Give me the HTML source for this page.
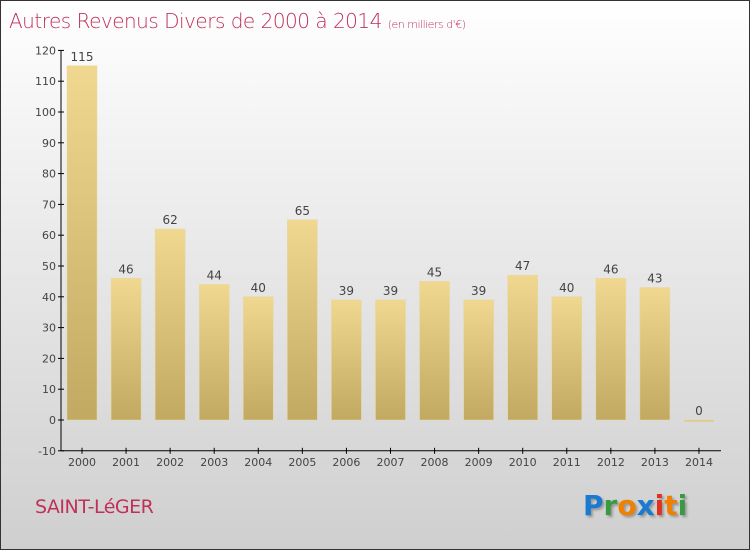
<!DOCTYPE html>
<html><head><meta charset="utf-8"><style>
body{margin:0;width:750px;height:550px;overflow:hidden}
#c{position:relative;width:748px;height:548px;border:1px solid #333;background:linear-gradient(#ffffff,#f0f0f0 30%,#cfcfcf);font-family:"DejaVu Sans","Liberation Sans",sans-serif}
</style></head><body>
<div id="c">
<div style="position:absolute;left:8px;top:8px;font-size:20px;color:#c0305a;letter-spacing:-0.5px;font-weight:300">Autres Revenus Divers de 2000 à 2014 <span style="font-size:11px">(en milliers d'€)</span></div>
<svg width="750" height="550" style="position:absolute;left:-1px;top:-1px">
<defs><linearGradient id="g" x1="0" y1="0" x2="0" y2="1"><stop offset="0" stop-color="#f0d890"/><stop offset="1" stop-color="#c2a962"/></linearGradient></defs>
<g id="plot"></g></svg>
<div style="position:absolute;left:34px;top:495px;font-size:19px;color:#c0305a;letter-spacing:-0.5px">SAINT-LéGER</div>
<div style="position:absolute;left:582px;top:488px;font-size:28px;font-family:'DejaVu Sans',sans-serif;font-weight:bold;text-shadow:2px 2px 2px #999"><span style="color:#1a7ad0">P</span><span style="color:#3a9a40">r</span><span style="color:#f08000">o</span><span style="color:#1a7ad0">x</span><span style="color:#e03020">i</span><span style="color:#f08000">t</span><span style="color:#3a9a40">i</span></div>
</div>
<script>
const years=[2000,2001,2002,2003,2004,2005,2006,2007,2008,2009,2010,2011,2012,2013,2014];
const values=[115,46,62,44,40,65,39,39,45,39,47,40,46,43,0];
const ticks=[-10,0,10,20,30,40,50,60,70,80,90,100,110,120];
const NS='http://www.w3.org/2000/svg';
const g=document.getElementById('plot');
const y=v=>420-v*3.08;
const x=i=>82+i*44.07;
function mk(t,a){const e=document.createElementNS(NS,t);for(const k in a)e.setAttribute(k,a[k]);g.appendChild(e);return e;}
let ax=mk('line',{x1:61,y1:y(120),x2:61,y2:y(-10),stroke:'#000'});


let xa=mk('line',{x1:61,y1:y(-10),x2:721,y2:y(-10),stroke:'#000'});


ticks.forEach(t=>{
mk('line',{x1:58,y1:y(t),x2:64,y2:y(t),stroke:'#000'});
const tx=mk('text',{x:56,y:y(t)+4,'text-anchor':'end','font-size':11,fill:'#444'});tx.textContent=t;


});
years.forEach((yr,i)=>{
const v=values[i];const top=y(Math.max(v,0));
const b=mk('rect',{x:x(i)-15,y:top,width:30,height:Math.max(y(0)-top,1.5),fill:'url(#g)',stroke:'#e8d8a0','stroke-width':0.5});


const l=mk('text',{x:x(i),y:top-5,'text-anchor':'middle','font-size':12,fill:'#444'});l.textContent=v;


mk('line',{x1:x(i),y1:y(-10)-3,x2:x(i),y2:y(-10)+3,stroke:'#000'});
const xl=mk('text',{x:x(i),y:466,'text-anchor':'middle','font-size':11,fill:'#444'});xl.textContent=yr;


});
</script>
</body></html>
